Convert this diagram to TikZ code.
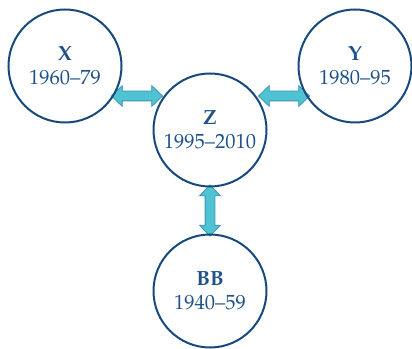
\documentclass[tikz,border=0pt]{standalone}
\usepackage[T1]{fontenc}
\renewcommand{\rmdefault}{ppl}
\usetikzlibrary{shapes.arrows}
\definecolor{ringblue}{HTML}{17497D}
\definecolor{txtblue}{HTML}{1F5288}
\definecolor{arrowfill}{HTML}{4FC3D1}
\definecolor{arrowline}{HTML}{3A94B6}
\tikzset{
  era/.style={circle, draw=ringblue, line width=2pt,
    minimum size=113pt, inner sep=0pt, align=center, text=txtblue,
    font=\fontsize{20.5}{24}\selectfont},
  link/.style={double arrow, draw=arrowline, fill=arrowfill, line width=0.8pt,
    inner xsep=0pt, inner ysep=4.5pt, double arrow head extend=5.5pt,
    minimum height=51pt, double arrow tip angle=88}
}
\begin{document}
\begin{tikzpicture}[x=1pt,y=1pt]
\useasboundingbox (0,0) rectangle (412,348);
\node[link] (xz) at (137,252) {};
\node[link] (zy) at (284,252) {};
\node[link, rotate=90] (zb) at (210,137.5) {};
\node[era] (x) at (65,282) {\textbf{X}\\1960--79};
\node[era] (y) at (355,282) {\textbf{Y}\\1980--95};
\node[era] (z) at (210,218) {\textbf{Z}\\1995--2010};
\node[era] (bb) at (210,57) {\textbf{BB}\\1940--59};
\end{tikzpicture}
\end{document}
